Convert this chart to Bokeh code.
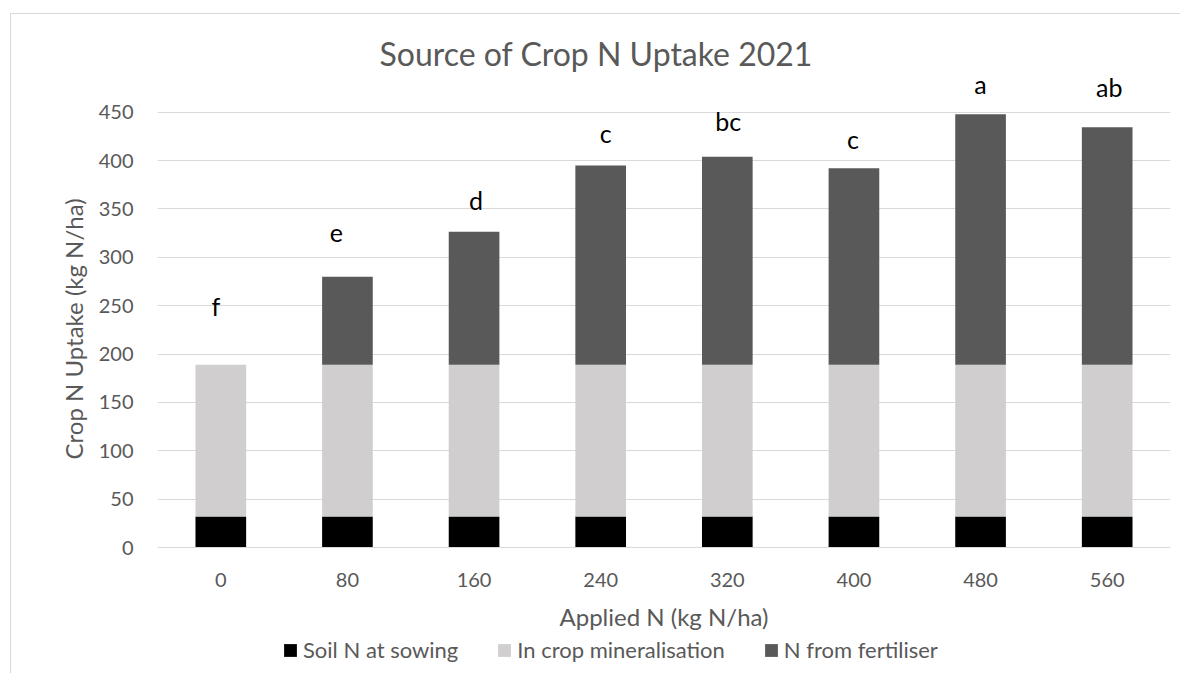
from bokeh.plotting import figure
from bokeh.layouts import column
from bokeh.models import (ColumnDataSource, FactorRange, Range1d, FixedTicker,
                          Legend, LegendItem, LabelSet)
from bokeh.core.properties import value
from bokeh.embed import file_html
from bokeh.resources import INLINE

# ---- data ----
applied_n = ["0", "80", "160", "240", "320", "400", "480", "560"]
soil_n_at_sowing = [32, 32, 32, 32, 32, 32, 32, 32]
in_crop_mineralisation = [157, 157, 157, 157, 157, 157, 157, 157]
n_from_fertiliser = [0, 91, 137.5, 206, 215, 203, 259, 245.5]
series_names = ["Soil N at sowing", "In crop mineralisation", "N from fertiliser"]
letters = ["f", "e", "d", "c", "bc", "c", "a", "ab"]
y_ticks = [0, 50, 100, 150, 200, 250, 300, 350, 400, 450]

# ---- annotation placement (baseline in kg N/ha, horizontal nudge in px) ----
letter_baseline = [239, 316, 349, 418, 431, 412, 469, 466]
letter_nudge = [-5, -11, 2, 5, 1, -1, 0, 2]

FONT = "Lato"
GREY_TXT = "#595959"
GRID = "#d9d9d9"
COLORS = ["#000000", "#d0cece", "#595959"]
STACK = ["soil", "mineral", "fert"]

src = ColumnDataSource(dict(N=applied_n, soil=soil_n_at_sowing,
                            mineral=in_crop_mineralisation, fert=n_from_fertiliser))

x_range = FactorRange(factors=applied_n, range_padding=0)

p = figure(x_range=x_range, y_range=Range1d(0, 490),
           width=1169, height=623, output_backend="svg", toolbar_location=None,
           min_border_left=146, min_border_right=10, min_border_top=59,
           min_border_bottom=90)

p.title.text = "Source of Crop N Uptake 2021"
p.title.align = "left"
p.title.offset = 222
p.title.standoff = 2
p.title.text_font = FONT
p.title.text_font_size = "32px"
p.title.text_font_style = "normal"
p.title.text_color = GREY_TXT

p.outline_line_color = None
p.xgrid.grid_line_color = None
p.ygrid.grid_line_color = GRID
p.ygrid.ticker = FixedTicker(ticks=y_ticks)

p.yaxis.ticker = FixedTicker(ticks=y_ticks)
p.yaxis.axis_line_color = None
p.yaxis.major_tick_line_color = None
p.yaxis.minor_tick_line_color = None
p.yaxis.major_label_standoff = 18
# trailing no-break spaces keep the title centred on the 0-450 part of the axis
p.yaxis.axis_label = "Crop N Uptake (kg N/ha)" + "\u00a0" * 6
p.yaxis.axis_label_standoff = 8

p.xaxis.axis_line_color = GRID
p.xaxis.major_tick_line_color = None
p.xaxis.minor_tick_line_color = None
p.xaxis.major_label_standoff = 19
p.xaxis.axis_label = "Applied N (kg N/ha)"
p.xaxis.axis_label_standoff = 12

for ax in (p.xaxis, p.yaxis):
    ax.major_label_text_font = FONT
    ax.major_label_text_font_size = "20px"
    ax.major_label_text_color = GREY_TXT
    ax.axis_label_text_font = FONT
    ax.axis_label_text_font_size = "24px"
    ax.axis_label_text_font_style = "normal"
    ax.axis_label_text_color = GREY_TXT

p.vbar_stack(STACK, x="N", width=0.4, fill_color=COLORS, line_color=None, source=src)

lab_src = ColumnDataSource(dict(x=applied_n, y=letter_baseline, text=letters, dx=letter_nudge))
labels = LabelSet(x="x", y="y", text="text", x_offset="dx", source=lab_src,
                  text_align="center", text_baseline="alphabetic",
                  text_font=value(FONT), text_font_size="25px", text_color="#000000")
p.add_layout(labels)

# ---- legend strip under the chart (same stacks, drawn outside its visible range) ----
pl = figure(width=1169, height=36, x_range=x_range, y_range=Range1d(1000, 1001),
            output_backend="svg", toolbar_location=None, min_border=0,
            x_axis_location=None, y_axis_location=None)
pl.outline_line_color = None
pl.xgrid.grid_line_color = None
pl.ygrid.grid_line_color = None
swatches = pl.vbar_stack(STACK, x="N", width=0.4, fill_color=COLORS, line_color=None, source=src)
legend = Legend(items=[LegendItem(label=n, renderers=[r]) for n, r in zip(series_names, swatches)],
                orientation="horizontal", location=(125, 10), padding=0, margin=0,
                spacing=38, glyph_width=16, glyph_height=16, label_standoff=5,
                label_text_font=FONT, label_text_font_size="22px",
                label_text_color=GREY_TXT, border_line_color=None,
                background_fill_alpha=0)
pl.add_layout(legend, "center")

layout = column(p, pl, spacing=0)
layout.styles = {"margin-left": "10px", "margin-top": "13px",
                 "border-top": "1px solid #d9d9d9", "border-left": "1px solid #d9d9d9"}

open("out.html", "w").write(file_html(layout, INLINE))
